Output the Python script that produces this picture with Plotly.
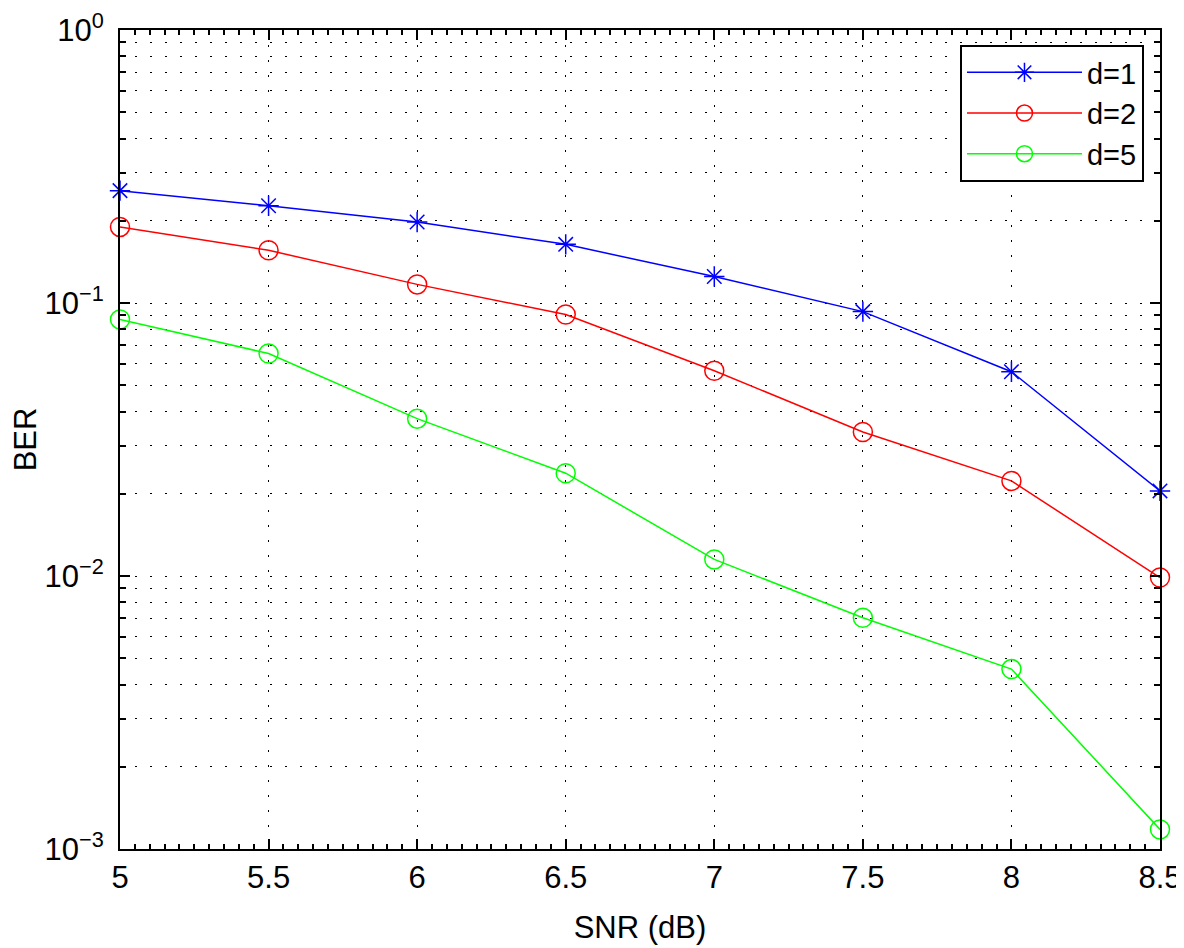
import plotly.graph_objects as go

snr = [5, 5.5, 6, 6.5, 7, 7.5, 8, 8.5]
ber_d1 = [0.258, 0.227, 0.198, 0.164, 0.125, 0.093, 0.056, 0.0205]
ber_d2 = [0.190, 0.156, 0.117, 0.0908, 0.0565, 0.0337, 0.0223, 0.00987]
ber_d5 = [0.0871, 0.0653, 0.0377, 0.0238, 0.0115, 0.00703, 0.00456, 0.00118]

x_ticks = [5, 5.5, 6, 6.5, 7, 7.5, 8, 8.5]
x_ticktext = ["5", "5.5", "6", "6.5", "7", "7.5", "8", "8.5"]
y_ticks = [1e-3, 1e-2, 1e-1, 1]
y_ticktext = ["10<sup>−3</sup>", "10<sup>−2</sup>", "10<sup>−1</sup>", "10<sup>0</sup>"]
y_minor = [m * 10 ** e for e in (-3, -2, -1) for m in range(2, 10)]

font = "Liberation Sans, Arial, Helvetica, sans-serif"
FS = 31

fig = go.Figure()
fig.add_trace(go.Scatter(x=snr, y=ber_d1, name="d=1", mode="lines+markers",
                         line=dict(color="#0000ff", width=1.5),
                         marker=dict(symbol="asterisk-open", size=17, line=dict(color="#0000ff", width=1.5)),
                         cliponaxis=False))
fig.add_trace(go.Scatter(x=snr, y=ber_d2, name="d=2", mode="lines+markers",
                         line=dict(color="#ff0000", width=1.5),
                         marker=dict(symbol="circle-open", size=19, line=dict(color="#ff0000", width=1.5)),
                         cliponaxis=False))
fig.add_trace(go.Scatter(x=snr, y=ber_d5, name="d=5", mode="lines+markers",
                         line=dict(color="#00ff00", width=1.5),
                         marker=dict(symbol="circle-open", size=19, line=dict(color="#00ff00", width=1.5)),
                         cliponaxis=False))

dash = "1.5px,13.5px"
grid = dict(gridcolor="black", gridwidth=1, griddash=dash)

# page has an 8px body margin: plot area on page spans x 120-1160, y 30-849
fig.update_layout(
    width=1184, height=948,
    margin=dict(l=112, r=32, t=22, b=107, autoexpand=False),
    paper_bgcolor="white", plot_bgcolor="white",
    font=dict(family=font, size=FS, color="black"),
    showlegend=True,
    legend=dict(x=0.9846, y=0.9817, xanchor="right", yanchor="top",
                bgcolor="white", bordercolor="black", borderwidth=2,
                font=dict(size=29), itemwidth=115, tracegroupgap=0),
)
fig.update_xaxes(
    range=[5, 8.5], tickvals=x_ticks, ticktext=x_ticktext, automargin=False,
    ticklabeloverflow="allow",
    showline=True, linecolor="black", linewidth=2, mirror="ticks",
    ticks="inside", ticklen=10, tickwidth=1.5, tickcolor="black",
    showgrid=True, zeroline=False, **grid,
    minor=dict(dtick=0.05, ticks="inside", ticklen=5, tickcolor="black", showgrid=False),
    title=dict(text="SNR (dB)", font=dict(size=FS), standoff=22),
    tickfont=dict(size=FS),
)
fig.update_yaxes(
    type="log", range=[-3, 0], tickvals=y_ticks, ticktext=y_ticktext, automargin=False,
    ticklabeloverflow="allow",
    showline=True, linecolor="black", linewidth=2, mirror="ticks",
    ticks="inside", ticklen=10, tickwidth=1.5, tickcolor="black",
    ticklabelstandoff=8,
    showgrid=True, zeroline=False, **grid,
    minor=dict(tickvals=y_minor, ticks="inside", ticklen=6, tickcolor="black",
               showgrid=True, gridcolor="black", gridwidth=1, griddash=dash),
    title=dict(text="BER", font=dict(size=FS), standoff=28),
    tickfont=dict(size=FS),
)

fig.write_html("out.html")
